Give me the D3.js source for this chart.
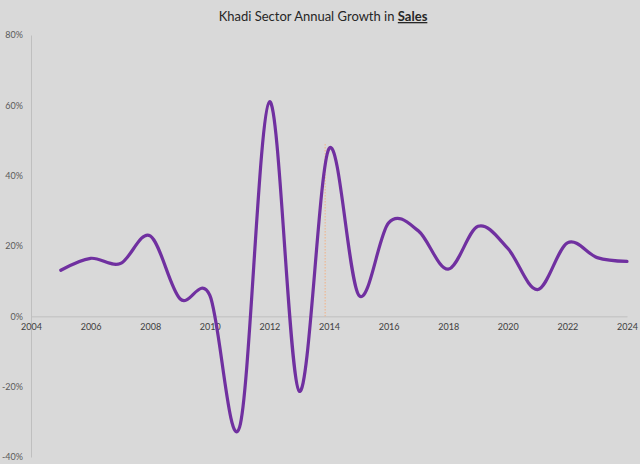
<!DOCTYPE html>
<html lang="en">
<head>
<meta charset="utf-8">
<title>Khadi Sector Annual Growth in Sales</title>
<script src="https://cdn.jsdelivr.net/npm/d3@7/dist/d3.min.js"></script>
<style>
  body { margin: 0; background: #d9d9d9; }
  svg { display: block; font-family: Lato, "Open Sans", sans-serif; }
</style>
</head>
<body>
<div id="chart"></div>
<script>
// data (growth in % per year)
var years = [2005, 2006, 2007, 2008, 2009, 2010, 2011, 2012, 2013, 2014,
             2015, 2016, 2017, 2018, 2019, 2020, 2021, 2022, 2023, 2024];
var growth = [13.1, 16.5, 15.0, 22.9, 5.0, 6.0, -31.5, 61.0, -21.3, 47.7,
              6.0, 26.6, 24.3, 13.4, 25.6, 19.3, 7.6, 20.9, 16.7, 15.6];
var xTicks = [2004, 2006, 2008, 2010, 2012, 2014, 2016, 2018, 2020, 2022, 2024];
var yTicks = [-40, -20, 0, 20, 40, 60, 80];
// thin dotted drop line near 2014
var dropLine = [{ year: 2013.87, value: 49 }];

var width = 640, height = 464;

var svg = d3.select("#chart").append("svg")
    .attr("width", width)
    .attr("height", height);

svg.append("rect")
    .attr("width", width)
    .attr("height", height)
    .attr("fill", "#d9d9d9");

var x = d3.scaleLinear().domain([2004, 2024]).range([31, 627]);
var y = d3.scaleLinear().domain([-40, 80]).range([457, 35]);

// title
var title = svg.append("text")
    .attr("x", 323)
    .attr("y", 21)
    .attr("text-anchor", "middle")
    .attr("font-size", 13)
    .attr("fill", "#262626");
title.append("tspan").text("Khadi Sector Annual Growth in ");
title.append("tspan")
    .attr("font-weight", "bold")
    .attr("text-decoration", "underline")
    .text("Sales");

// y axis
var yAxis = svg.append("g")
    .attr("transform", "translate(" + x(2004) + ",0)")
    .call(d3.axisLeft(y).tickValues(yTicks).tickSize(0).tickPadding(8)
        .tickFormat(function(d) { return d + "%"; }));
yAxis.select(".domain").attr("stroke", "#bfbfbf");
yAxis.selectAll("text").attr("font-size", 9).attr("fill", "#595959")
    .attr("font-family", "Lato, 'Open Sans', sans-serif");

// x axis at 0%
var xAxis = svg.append("g")
    .attr("transform", "translate(0," + y(0) + ")")
    .call(d3.axisBottom(x).tickValues(xTicks).tickSize(0).tickPadding(7)
        .tickFormat(d3.format("d")));
xAxis.select(".domain").attr("stroke", "#bfbfbf");
xAxis.selectAll("text").attr("font-size", 9).attr("fill", "#404040")
    .attr("font-family", "Lato, 'Open Sans', sans-serif");

// dotted drop line
svg.selectAll(".drop")
    .data(dropLine)
  .enter().append("line")
    .attr("class", "drop")
    .attr("x1", function(d) { return x(d.year); })
    .attr("x2", function(d) { return x(d.year); })
    .attr("y1", function(d) { return y(d.value); })
    .attr("y2", y(0))
    .attr("stroke", "#f4b183")
    .attr("stroke-width", 1)
    .attr("stroke-dasharray", "1.5,1.5");

// smoothed line (Excel-like)
var line = d3.line()
    .x(function(d, i) { return x(years[i]); })
    .y(function(d) { return y(d); })
    .curve(d3.curveCardinal.tension(0));

svg.append("path")
    .datum(growth)
    .attr("d", line)
    .attr("fill", "none")
    .attr("stroke", "#7030a0")
    .attr("stroke-width", 3.2)
    .attr("stroke-linecap", "round");
</script>
</body>
</html>
